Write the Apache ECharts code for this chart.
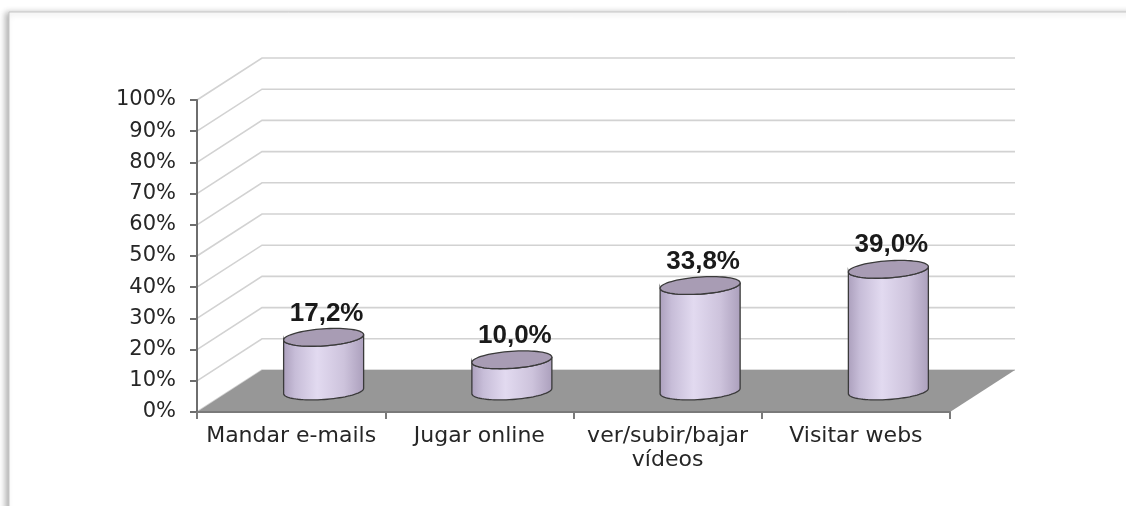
<!DOCTYPE html>
<html>
<head>
<meta charset="utf-8">
<script src="https://cdn.jsdelivr.net/npm/echarts@6/dist/echarts.min.js"></script>
<style>
  html, body { margin: 0; padding: 0; background: #ffffff; }
  #chart { width: 1126px; height: 506px; }
</style>
</head>
<body>
<div id="chart"></div>
<script>
// Activities and share of respondents (%)
const categories = ['Mandar e-mails', 'Jugar online', 'ver/subir/bajar\nvídeos', 'Visitar webs'];
const values = [17.2, 10.0, 33.8, 39.0];
// Gridline levels on the back wall (%)
const gridLevels = [0, 10, 20, 30, 40, 50, 60, 70, 80, 90, 100];

// Pseudo-3D depth of the plot box, in pixels (screen x right, y down)
const DEPTH_X = 65;
const DEPTH_Y = -42;
const TILT = -4 * Math.PI / 180;   // slight tilt of the cylinder caps

function fmtPct(v) {
  return v.toFixed(1).replace('.', ',') + '%';
}

// Points along an ellipse (tilted by angle a) for parameter t0..t1
function ellipsePoints(cx, cy, rx, ry, a, t0, t1, n) {
  const pts = [];
  const ca = Math.cos(a), sa = Math.sin(a);
  for (let i = 0; i <= n; i++) {
    const t = t0 + (t1 - t0) * i / n;
    const ex = rx * Math.cos(t), ey = ry * Math.sin(t);
    pts.push([cx + ex * ca - ey * sa, cy + ex * sa + ey * ca]);
  }
  return pts;
}

const chart = echarts.init(document.getElementById('chart'));

const option = {
  backgroundColor: '#ffffff',
  animation: false,
  graphic: {
    elements: [{
      type: 'rect',
      z: -100,
      silent: true,
      shape: { x: 9, y: 12, width: 1140, height: 520 },
      style: {
        fill: '#ffffff',
        stroke: '#c6c6c6',
        lineWidth: 1,
        shadowBlur: 6,
        shadowColor: 'rgba(0,0,0,0.3)',
        shadowOffsetX: -3,
        shadowOffsetY: 1
      }
    }]
  },
  grid: { left: 197, right: 176, top: 100, bottom: 94 },
  xAxis: {
    type: 'category',
    data: categories,
    z: 10,
    axisLine: { show: true, lineStyle: { color: '#7a7a7a', width: 2 } },
    axisTick: { show: true, interval: 0, length: 7, lineStyle: { color: '#7a7a7a', width: 2 } },
    axisLabel: {
      interval: 0,
      margin: 12,
      fontFamily: 'DejaVu Sans',
      fontSize: 22,
      lineHeight: 24,
      color: '#262626'
    }
  },
  yAxis: {
    type: 'value',
    min: 0,
    max: 100,
    interval: 10,
    z: 10,
    axisLine: { show: true, lineStyle: { color: '#6e6e6e', width: 2 } },
    axisTick: { show: true, length: 7, lineStyle: { color: '#6e6e6e', width: 2 } },
    splitLine: { show: false },
    axisLabel: {
      margin: 21,
      fontFamily: 'DejaVu Sans',
      fontSize: 21,
      color: '#262626',
      formatter: '{value}%'
    }
  },
  series: [
    {
      // back wall gridlines, with the diagonal side-wall segment
      type: 'custom',
      z: 1,
      silent: true,
      data: gridLevels.map(v => [0, v]),
      renderItem: function (params, api) {
        const v = api.value(1);
        const bw = api.size([1, 0])[0];
        const p0 = api.coord([0, v]);
        const p1 = api.coord([categories.length - 1, v]);
        const xl = p0[0] - bw / 2;
        const xr = p1[0] + bw / 2;
        const y = p0[1];
        return {
          type: 'polyline',
          shape: { points: [[xl, y], [xl + DEPTH_X, y + DEPTH_Y], [xr + DEPTH_X, y + DEPTH_Y]] },
          style: { stroke: '#d2d2d2', lineWidth: 1.6, fill: null }
        };
      }
    },
    {
      // floor of the plot box
      type: 'custom',
      z: 2,
      silent: true,
      data: [[0, 0]],
      renderItem: function (params, api) {
        const bw = api.size([1, 0])[0];
        const p0 = api.coord([0, 0]);
        const p1 = api.coord([categories.length - 1, 0]);
        const xl = p0[0] - bw / 2;
        const xr = p1[0] + bw / 2;
        const y = p0[1];
        return {
          type: 'polygon',
          shape: { points: [[xl, y], [xl + DEPTH_X, y + DEPTH_Y], [xr + DEPTH_X, y + DEPTH_Y], [xr, y]] },
          style: { fill: '#979797' }
        };
      }
    },
    {
      // cylinders with value labels
      type: 'custom',
      z: 3,
      silent: true,
      data: values.map((v, i) => [i, v]),
      renderItem: function (params, api) {
        const idx = api.value(0);
        const v = api.value(1);
        const bw = api.size([1, 0])[0];
        const top = api.coord([idx, v]);
        const base = api.coord([idx, 0]);
        const cx = top[0] + DEPTH_X / 2;
        const ty = top[1] + DEPTH_Y / 2;
        const by = base[1] + DEPTH_Y / 2;
        const rx = bw * 0.213;
        const ry = 8.5;
        const bottomArc = ellipsePoints(cx, by, rx, ry, TILT, 0, Math.PI, 40);
        const topArc = ellipsePoints(cx, ty, rx, ry, TILT, Math.PI, 0, 40);
        const cap = ellipsePoints(cx, ty, rx, ry, TILT, 0, Math.PI * 2, 72);
        return {
          type: 'group',
          children: [
            {
              type: 'polygon',
              shape: { points: bottomArc.concat(topArc) },
              style: {
                fill: new echarts.graphic.LinearGradient(0, 0, 1, 0, [
                  { offset: 0, color: '#ab9fbc' },
                  { offset: 0.15, color: '#c7bdd8' },
                  { offset: 0.42, color: '#e2daf0' },
                  { offset: 0.75, color: '#cdc3dc' },
                  { offset: 1, color: '#ab9fbc' }
                ]),
                stroke: '#3a3a3a',
                lineWidth: 1.3
              }
            },
            {
              type: 'polygon',
              shape: { points: cap },
              style: { fill: '#a89cb4', stroke: '#3a3a3a', lineWidth: 1.3 }
            },
            {
              type: 'text',
              style: {
                text: fmtPct(v),
                x: cx + 3,
                y: ty - 24,
                align: 'center',
                verticalAlign: 'middle',
                fontFamily: 'Liberation Sans',
                fontWeight: 'bold',
                fontSize: 26,
                fill: '#1a1a1a'
              }
            }
          ]
        };
      }
    }
  ]
};

chart.setOption(option);
</script>
</body>
</html>
